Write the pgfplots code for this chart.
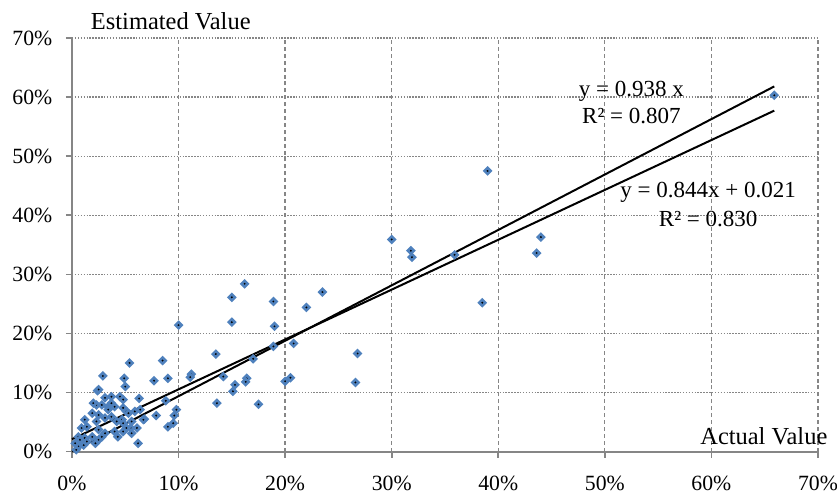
\documentclass[border=0pt]{standalone}
\usepackage{pgfplots}
\pgfplotsset{compat=1.18}
\usepackage{fontspec}
\setmainfont{Liberation Serif}
\definecolor{mblue}{RGB}{79,129,189}
\definecolor{gridgray}{RGB}{134,134,134}
\begin{document}
\begin{tikzpicture}
\begin{axis}[
  scale only axis,
  width=410.3bp, height=227.5bp,
  xmin=0, xmax=70, ymin=0, ymax=70,
  xtick={0,10,...,70}, ytick={0,10,...,70},
  xticklabels={0\%,10\%,20\%,30\%,40\%,50\%,60\%,70\%},
  yticklabels={0\%,10\%,20\%,30\%,40\%,50\%,60\%,70\%},
  /pgf/number format/assume math mode=true,
  axis x line=bottom, axis y line=left,
  axis line style={gridgray, line width=1.1bp, -},
  tick style={gridgray, line width=0.9bp},
  tick align=outside, major tick length=3.3bp,
  xmajorgrids, ymajorgrids,
  x grid style={gridgray, line width=0.7bp, dash pattern=on 2.2bp off 1.6bp},
  y grid style={gridgray, line width=0.7bp, dash pattern=on 0.8bp off 0.8bp},
  yticklabel style={xshift=-4bp},
  xticklabel style={yshift=-6.5bp},
  tick label style={font=\fontsize{12}{14}\selectfont},
  clip=false,
]
\addplot[only marks, mark=square*, mark size=1.2bp,
  mark options={draw=mblue, fill=black, line width=1.4bp, rotate=45}] coordinates {
(65.9,60.3) (39.0,47.5) (44.0,36.3) (43.6,33.6) (38.5,25.2) (30.0,35.9)
(31.8,34.0) (31.9,32.9) (35.9,33.3) (23.5,27.0) (22.0,24.4) (20.8,18.3)
(26.8,16.6) (20.5,12.5) (20.0,11.9) (26.6,11.7) (16.2,28.4) (15.0,26.1)
(18.9,25.4) (15.0,21.9) (19.0,21.2) (10.0,21.4) (13.5,16.5) (18.9,17.8)
(17.0,15.7) (11.2,13.1) (11.1,12.6) (14.2,12.7) (15.3,11.3) (15.1,10.2)
(16.4,12.4) (16.3,11.8) (13.6,8.2) (17.5,8.0) (5.4,15.0) (8.5,15.4)
(2.9,12.8) (4.9,12.4) (7.7,12.0) (9.0,12.4) (5.0,11.0) (2.4,10.3)
(6.3,9.0) (8.8,8.6) (5.1,6.8) (7.9,6.1) (9.8,7.1) (9.6,6.1)
(9.5,4.8) (9.0,4.2) (5.5,4.0) (6.8,5.5) (6.2,1.4) (5.3,6.5)
(5.9,6.8) (6.4,7.1) (4.7,5.4) (5.6,5.1) (6.7,5.4) (6.1,4.0)
(2.5,10.5) (3.1,9.1) (3.7,9.3) (4.5,9.3) (4.8,8.8) (2.3,7.9)
(2.0,8.2) (2.8,7.9) (3.4,7.6) (3.7,8.2) (4.0,7.6) (4.8,7.4)
(3.4,7.1) (2.5,6.2) (1.9,6.5) (1.2,5.4) (2.3,5.1) (3.1,5.7)
(3.7,5.9) (4.2,5.1) (4.8,4.8) (5.1,4.0) (4.8,3.4) (0.9,4.0)
(1.4,4.2) (2.5,3.7) (3.1,3.1) (4.0,3.4) (4.3,2.5) (0.6,2.5)
(0.75,2.0) (1.2,2.3) (1.9,2.5) (2.5,2.0) (2.8,2.5) (0.3,1.4)
(0.6,0.85) (1.1,1.1) (1.4,1.7) (2.2,1.4) (0.4,0.3) (5.6,3.1)
};
\addplot[black, line width=1.1bp] coordinates {(0,0) (65.9,61.8)};
\addplot[black, line width=1.1bp] coordinates {(0,2.1) (65.9,57.7)};
\node[font=\fontsize{12.7}{15}\selectfont] at (axis cs:52.5,61.0) {y = 0.938 x};
\node[font=\fontsize{12.7}{15}\selectfont] at (axis cs:52.5,56.8) {R² = 0.807};
\node[font=\fontsize{12.7}{15}\selectfont] at (axis cs:59.7,43.8) {y = 0.844x + 0.021};
\node[font=\fontsize{12.7}{15}\selectfont] at (axis cs:59.7,39.4) {R² = 0.830};
\node[font=\fontsize{13.5}{16}\selectfont, anchor=west, inner sep=0pt] at (rel axis cs:0.025,1.041) {Estimated Value};
\node[font=\fontsize{13.5}{16}\selectfont, anchor=east, inner sep=0pt] at (rel axis cs:1.013,0.037) {Actual Value};
\coordinate (bbl) at (rel axis cs:-0.0965,-0.1022);
\coordinate (btr) at (rel axis cs:1.0255,1.0918);
\end{axis}
\pgfresetboundingbox
\path[use as bounding box] (bbl) rectangle (btr);
\end{tikzpicture}
\end{document}
